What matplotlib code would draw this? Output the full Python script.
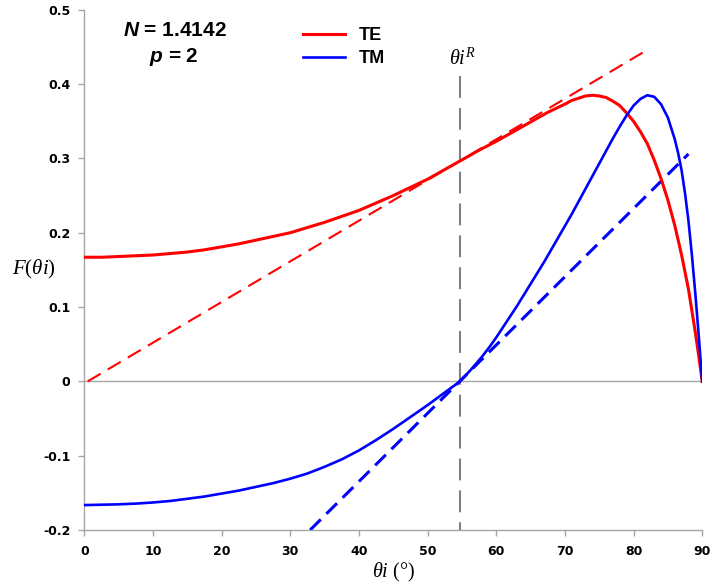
import numpy as np
import matplotlib.pyplot as plt

plt.rcParams['mathtext.fontset'] = 'custom'
plt.rcParams['mathtext.rm'] = 'Liberation Serif'
plt.rcParams['mathtext.it'] = 'Liberation Serif:italic'
plt.rcParams['mathtext.bf'] = 'Liberation Serif:bold'
plt.rcParams['mathtext.bfit'] = 'Liberation Sans:bold:italic'

# incidence angle (deg) and F values for each polarisation
te_angle = [0, 2.5, 5, 7.5, 10, 12.5, 15, 17.5, 20, 22.5, 25, 27.5, 30, 32.5,
            35, 37.5, 40, 42.5, 45, 47.5, 50, 52.5, 55, 57.5, 60, 62.5, 65,
            67.5, 70, 71, 72, 73, 74, 75, 76, 77, 78, 79, 80, 81, 82, 83, 84,
            85, 86, 87, 88, 89, 89.5, 90]
te_value = [0.167, 0.167, 0.168, 0.169, 0.170, 0.172, 0.174, 0.177, 0.181,
            0.185, 0.190, 0.195, 0.200, 0.207, 0.214, 0.222, 0.230, 0.240,
            0.250, 0.261, 0.272, 0.285, 0.298, 0.311, 0.323, 0.336, 0.349,
            0.362, 0.373, 0.378, 0.381, 0.384, 0.385, 0.384, 0.382, 0.377,
            0.371, 0.361, 0.350, 0.336, 0.320, 0.298, 0.273, 0.244, 0.210,
            0.170, 0.124, 0.066, 0.034, 0.0]

tm_angle = [0, 2.5, 5, 7.5, 10, 12.5, 15, 17.5, 20, 22.5, 25, 27.5, 30, 32.5,
            35, 37.5, 40, 42.5, 45, 47.5, 50, 52.5, 54.74, 56, 57, 58, 59, 60,
            61, 62, 63, 64, 65, 66, 67, 68, 69, 70, 71, 72, 73, 74, 75, 76, 77,
            78, 79, 80, 81, 82, 83, 84, 85, 86, 86.5, 87, 87.5, 88, 88.5, 89,
            89.5, 90]
tm_value = [-0.1665, -0.166, -0.1655, -0.1645, -0.163, -0.161, -0.158,
            -0.155, -0.151, -0.147, -0.142, -0.137, -0.131, -0.124, -0.115,
            -0.105, -0.093, -0.079, -0.064, -0.048, -0.032, -0.015, 0.0,
            0.0125, 0.023, 0.034, 0.046, 0.059, 0.073, 0.087, 0.101, 0.116,
            0.131, 0.146, 0.161, 0.177, 0.193, 0.209, 0.225, 0.242, 0.259,
            0.276, 0.293, 0.310, 0.327, 0.343, 0.358, 0.371, 0.380, 0.385,
            0.383, 0.373, 0.355, 0.326, 0.307, 0.284, 0.253, 0.216, 0.170,
            0.118, 0.061, 0.0]

# tangents at the Brewster angle
te_tan_x = [0.5, 82.0]
te_tan_y = [0.0, 0.446]
tm_tan_x = [32.9, 88.0]
tm_tan_y = [-0.2, 0.306]

brewster = 54.74
brewster_top = 0.411

fig = plt.figure(figsize=(7.1, 5.86), dpi=100)
ax = fig.add_axes([0.1187, 0.0956, 0.8703, 0.8877])

ax.axhline(0, color='#a6a6a6', lw=1.0, zorder=1)
ax.plot([brewster, brewster], [brewster_top, -0.2], color='#808080',
        lw=1.5, dashes=(10.5, 4.8), zorder=2)

ax.plot(te_tan_x, te_tan_y, color='#ff0000', lw=1.5, dashes=(7.2, 4.0), zorder=3)
ax.plot(tm_tan_x, tm_tan_y, color='#0000ff', lw=2.2, dashes=(4.9, 2.6), zorder=3)

ax.plot(te_angle, te_value, color='#ff0000', lw=2.2, label='TE', zorder=4,
        solid_joinstyle='round')
ax.plot(tm_angle, tm_value, color='#0000ff', lw=1.9, label='TM', zorder=5,
        solid_joinstyle='round')

ax.set_xlim(0, 90)
ax.set_ylim(-0.2, 0.5)
ax.set_xticks(np.arange(0, 91, 10))
ax.set_yticks([-0.2, -0.1, 0, 0.1, 0.2, 0.3, 0.4, 0.5])
ax.set_yticklabels(['-0.2', '-0.1', '0', '0.1', '0.2', '0.3', '0.4', '0.5'])

for s in ['top', 'right']:
    ax.spines[s].set_visible(False)
for s in ['left', 'bottom']:
    ax.spines[s].set_color('#a6a6a6')
    ax.spines[s].set_linewidth(1.0)
ax.tick_params(axis='both', colors='#a6a6a6', length=4, width=1.0,
               labelcolor='black', labelsize=9)
ax.tick_params(axis='y', pad=6)
ax.tick_params(axis='x', pad=7)
for lab in ax.get_xticklabels() + ax.get_yticklabels():
    lab.set_fontweight('bold')

ax.set_xlabel(r'$\theta i$ (°)', family='Liberation Serif', fontsize=14.5, labelpad=2)
ax.text(-0.117, 0.15, r'$F(\theta i)$', transform=ax.get_yaxis_transform(),
        family='Liberation Serif', fontsize=15, ha='left', va='center')

ax.text(brewster + 0.3, 0.433, r'$\theta i^R$', family='Liberation Serif',
        fontsize=14.5, ha='center', va='center')

fig.text(175 / 710, 1 - 30 / 586, r'$\mathbfit{N}$ = 1.4142', family='Liberation Sans',
         fontsize=15, fontweight='bold', ha='center', va='center')
fig.text(174 / 710, 1 - 57 / 586, r'$\mathbfit{p}$ = 2', family='Liberation Sans',
         fontsize=15, fontweight='bold', ha='center', va='center')

leg = ax.legend(loc='upper left', bbox_to_anchor=(303 / 710, 1 - 27 / 586),
                bbox_transform=fig.transFigure, frameon=False, borderpad=0,
                borderaxespad=0, handlelength=2.3, handletextpad=0.8,
                labelspacing=0.35, prop={'family': 'Liberation Sans', 'size': 13,
                                         'weight': 'bold'})

fig.savefig('out.png', dpi=100)
